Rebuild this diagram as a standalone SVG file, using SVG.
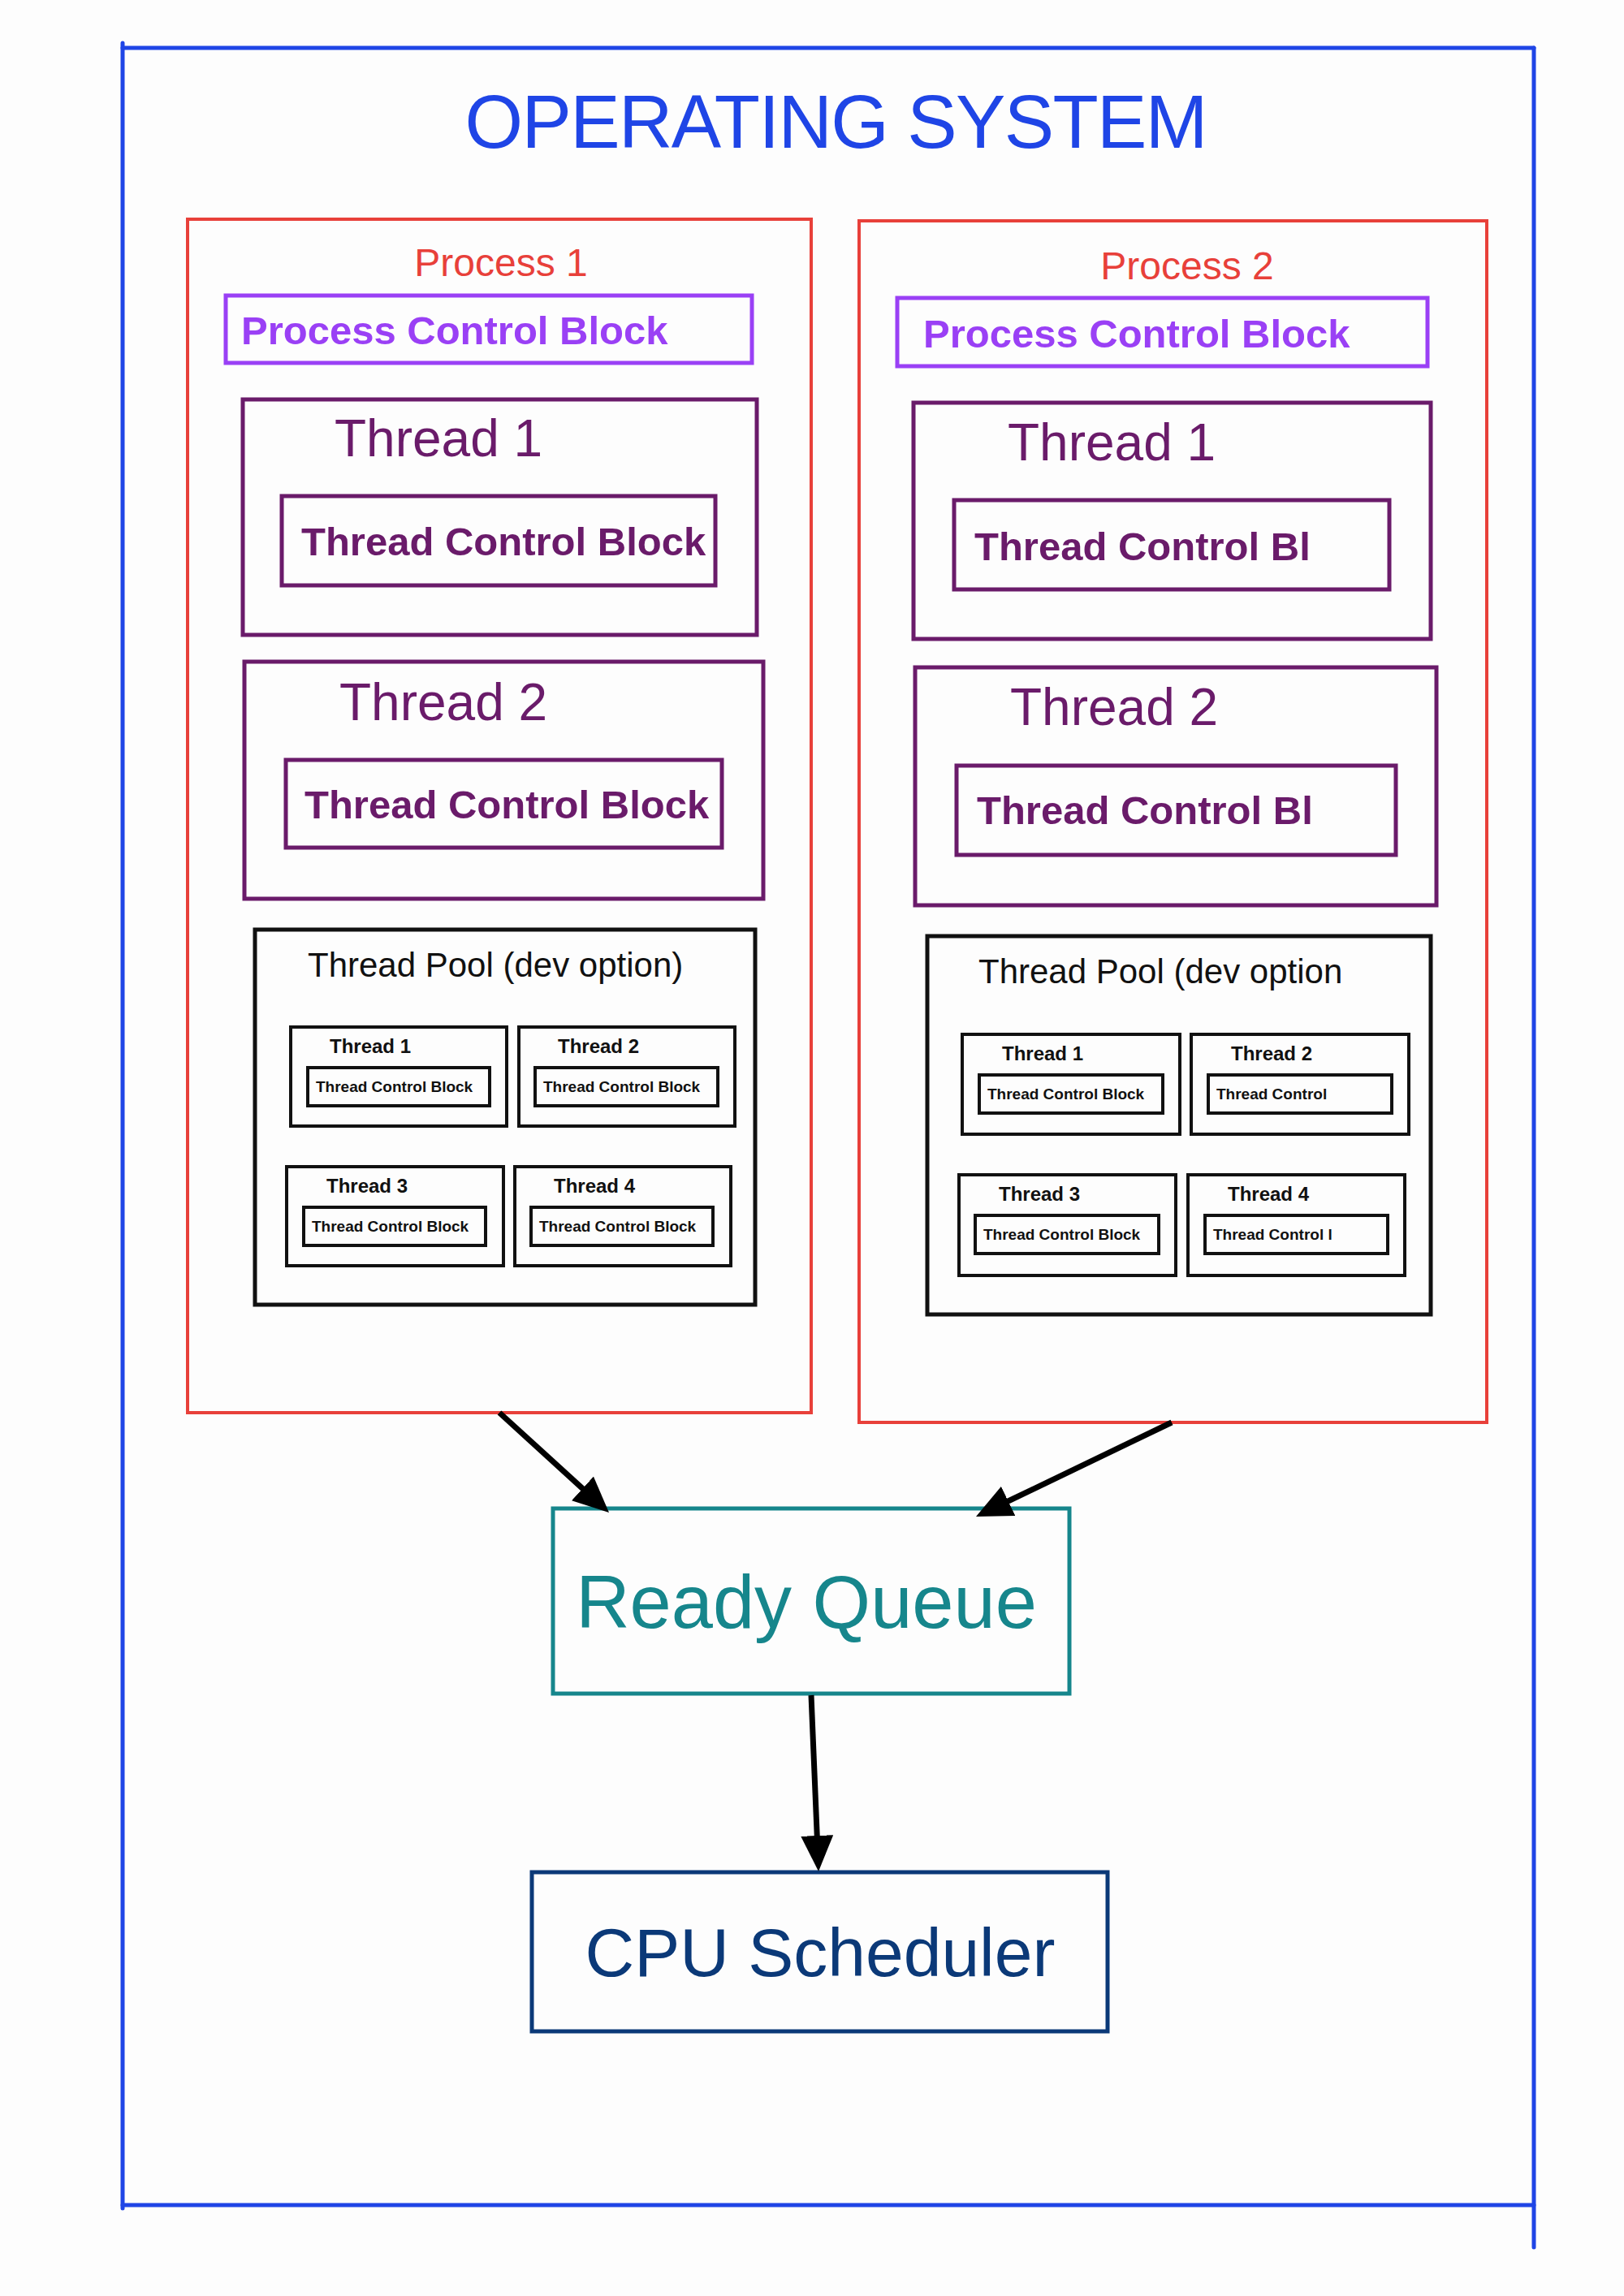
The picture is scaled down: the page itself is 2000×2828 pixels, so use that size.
<svg xmlns="http://www.w3.org/2000/svg" width="2000" height="2828" viewBox="0 0 2000 2828">
<style>
text{font-family:"Liberation Sans","DejaVu Sans",sans-serif;}
.frame{fill:none;stroke:#1f45e6;stroke-width:5;stroke-linecap:round}
.proc{fill:none;stroke:#e8403a;stroke-width:4}
.pcb{fill:none;stroke:#9a40f5;stroke-width:5}
.thr{fill:none;stroke:#6a1b6a;stroke-width:5}
.pool{fill:none;stroke:#111;stroke-width:5}
.mini{fill:none;stroke:#111;stroke-width:4}
.rq{fill:none;stroke:#16868c;stroke-width:5}
.cpu{fill:none;stroke:#0b3978;stroke-width:5}
.t-title{fill:#1f45e6;font-size:92px}
.t-proc{fill:#e8403a;font-size:48px}
.t-pcb{fill:#9a40f5;font-size:49px;font-weight:bold}
.t-thr{fill:#6a1b6a;font-size:64px}
.t-tcb{fill:#6a1b6a;font-size:49px;font-weight:bold}
.t-pool{fill:#111;font-size:42px}
.t-mlab{fill:#111;font-size:24px;font-weight:bold}
.t-mtcb{fill:#111;font-size:19px;font-weight:bold}
.t-rq{fill:#16868c;font-size:92px}
.t-cpu{fill:#0b3978;font-size:84px}
.conn{stroke:#000;stroke-width:7;fill:none;marker-end:url(#ah)}
</style>
<defs>
<marker id="ah" markerUnits="userSpaceOnUse" viewBox="0 0 44 40" markerWidth="44" markerHeight="40" refX="14" refY="20" orient="auto">
<path d="M0,0 L44,20 L0,40 z" fill="#000"/>
</marker>
</defs>
<rect width="2000" height="2828" fill="#fdfdfd"/>

<g id="os-frame">
<line class="frame" x1="151" y1="53" x2="151" y2="2720"/>
<line class="frame" x1="151" y1="59" x2="1889" y2="59"/>
<line class="frame" x1="1889" y1="59" x2="1889" y2="2768"/>
<line class="frame" x1="151" y1="2716" x2="1889" y2="2716"/>
<text class="t-title" x="1030" y="182" text-anchor="middle" textLength="915">OPERATING SYSTEM</text>
</g>

<g id="process1">
<rect class="proc" x="231" y="270" width="768" height="1470"/>
<text class="t-proc" x="617" y="340" text-anchor="middle">Process 1</text>
<g id="p1-pcb">
<rect class="pcb" x="278" y="364" width="648" height="83"/>
<text class="t-pcb" x="297" y="424">Process Control Block</text>
</g>
<g id="p1-thread1">
<rect class="thr" x="299" y="492" width="633" height="290"/>
<text class="t-thr" x="412" y="562">Thread 1</text>
<rect class="thr" x="347" y="611" width="534" height="110"/>
<text class="t-tcb" x="371" y="684">Thread Control Block</text>
</g>
<g id="p1-thread2">
<rect class="thr" x="301" y="815" width="639" height="292"/>
<text class="t-thr" x="418" y="887">Thread 2</text>
<rect class="thr" x="352" y="936" width="537" height="108"/>
<text class="t-tcb" x="375" y="1008">Thread Control Block</text>
</g>
<g id="p1-pool">
<rect class="pool" x="314" y="1145" width="616" height="462"/>
<text class="t-pool" x="379" y="1203">Thread Pool (dev option)</text>
<g id="p1-pool-t1">
<rect class="mini" x="358" y="1265" width="266" height="122"/>
<text class="t-mlab" x="406" y="1297">Thread 1</text>
<rect class="mini" x="379" y="1315" width="224" height="47"/>
<text class="t-mtcb" x="389" y="1345">Thread Control Block</text>
</g>
<g id="p1-pool-t2">
<rect class="mini" x="639" y="1265" width="266" height="122"/>
<text class="t-mlab" x="687" y="1297">Thread 2</text>
<rect class="mini" x="659" y="1315" width="225" height="47"/>
<text class="t-mtcb" x="669" y="1345">Thread Control Block</text>
</g>
<g id="p1-pool-t3">
<rect class="mini" x="353" y="1437" width="267" height="122"/>
<text class="t-mlab" x="402" y="1469">Thread 3</text>
<rect class="mini" x="374" y="1487" width="224" height="47"/>
<text class="t-mtcb" x="384" y="1517">Thread Control Block</text>
</g>
<g id="p1-pool-t4">
<rect class="mini" x="634" y="1437" width="266" height="122"/>
<text class="t-mlab" x="682" y="1469">Thread 4</text>
<rect class="mini" x="654" y="1487" width="224" height="47"/>
<text class="t-mtcb" x="664" y="1517">Thread Control Block</text>
</g>
</g>
</g>

<g id="process2">
<rect class="proc" x="1058" y="272" width="773" height="1480"/>
<text class="t-proc" x="1462" y="344" text-anchor="middle">Process 2</text>
<g id="p2-pcb">
<rect class="pcb" x="1105" y="367" width="653" height="84"/>
<text class="t-pcb" x="1137" y="428">Process Control Block</text>
</g>
<g id="p2-thread1">
<rect class="thr" x="1125" y="496" width="637" height="291"/>
<text class="t-thr" x="1241" y="567">Thread 1</text>
<rect class="thr" x="1175" y="616" width="536" height="110"/>
<text class="t-tcb" x="1200" y="690">Thread Control Bl</text>
</g>
<g id="p2-thread2">
<rect class="thr" x="1127" y="822" width="642" height="293"/>
<text class="t-thr" x="1244" y="893">Thread 2</text>
<rect class="thr" x="1178" y="943" width="541" height="110"/>
<text class="t-tcb" x="1203" y="1015">Thread Control Bl</text>
</g>
<g id="p2-pool">
<rect class="pool" x="1142" y="1153" width="620" height="466"/>
<text class="t-pool" x="1205" y="1211">Thread Pool (dev option</text>
<g id="p2-pool-t1">
<rect class="mini" x="1185" y="1274" width="268" height="123"/>
<text class="t-mlab" x="1234" y="1306">Thread 1</text>
<rect class="mini" x="1206" y="1324" width="226" height="47"/>
<text class="t-mtcb" x="1216" y="1354">Thread Control Block</text>
</g>
<g id="p2-pool-t2">
<rect class="mini" x="1467" y="1274" width="268" height="123"/>
<text class="t-mlab" x="1516" y="1306">Thread 2</text>
<rect class="mini" x="1488" y="1324" width="226" height="47"/>
<text class="t-mtcb" x="1498" y="1354">Thread Control</text>
</g>
<g id="p2-pool-t3">
<rect class="mini" x="1181" y="1447" width="267" height="124"/>
<text class="t-mlab" x="1230" y="1479">Thread 3</text>
<rect class="mini" x="1201" y="1497" width="226" height="47"/>
<text class="t-mtcb" x="1211" y="1527">Thread Control Block</text>
</g>
<g id="p2-pool-t4">
<rect class="mini" x="1463" y="1447" width="267" height="124"/>
<text class="t-mlab" x="1512" y="1479">Thread 4</text>
<rect class="mini" x="1484" y="1497" width="225" height="47"/>
<text class="t-mtcb" x="1494" y="1527">Thread Control l</text>
</g>
</g>
</g>

<g id="ready-queue">
<rect class="rq" x="681" y="1858" width="636" height="228"/>
<text class="t-rq" x="993" y="2005" text-anchor="middle">Ready Queue</text>
</g>

<g id="cpu-scheduler">
<rect class="cpu" x="655" y="2306" width="709" height="196"/>
<text class="t-cpu" x="1010" y="2434" text-anchor="middle">CPU Scheduler</text>
</g>

<g id="connectors">
<line class="conn" x1="615" y1="1740" x2="727.8" y2="1842.8"/>
<line class="conn" x1="1443" y1="1752" x2="1229" y2="1855"/>
<line class="conn" x1="999" y1="2088" x2="1006.8" y2="2275"/>
</g>
</svg>
